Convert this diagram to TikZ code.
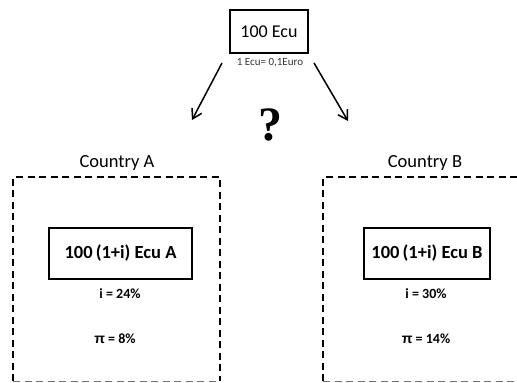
\documentclass[tikz,border=0pt]{standalone}
\usepackage{fontspec}
\setmainfont{Carlito}
\newfontfamily\qfont{Liberation Serif}
\newfontfamily\pifont{Liberation Sans}
\usetikzlibrary{arrows.meta}
\tikzset{
  box/.style={draw=black, line width=1.6pt, inner sep=0pt},
  dbox/.style={draw=black, line width=1.8pt, dash pattern=on 7pt off 4.5pt},
  arr/.style={line width=1.5pt, -{Straight Barb[length=9pt,width=11pt,line width=1.5pt]}},
  lbl/.style={inner sep=0pt, font=\fontsize{18.5}{21}\selectfont},
  small/.style={inner sep=0pt, font=\bfseries\fontsize{14}{16}\selectfont},
}
\begin{document}
\begin{tikzpicture}[x=1pt,y=-1pt]
\useasboundingbox (0,0) rectangle (517,383);
% top box
\node[box, minimum width=78pt, minimum height=43pt, font=\fontsize{18}{20}\selectfont] (top) at (269,31.5) {100 Ecu};
\node[inner sep=0pt, text=black!80, font=\fontsize{11}{12}\selectfont] (rate) at (270,63) {1 Ecu= 0,1Euro};
\coordinate (la) at (222,63);
\coordinate (lb) at (192,120);
\coordinate (ra) at (314,63);
\coordinate (rb) at (348,121);
\draw[arr] (la) -- (lb);
\draw[arr] (ra) -- (rb);
\node[inner sep=0pt, font=\qfont\bfseries\fontsize{48}{50}\selectfont] (q) at (270,125) {?};
% country A
\node[lbl] (ca) at (117,163) {Country A};
\draw[dbox] (13,381) -- (13,177) -- (220,177) -- (220,381);
\draw[line width=1pt, draw=black!55, dash pattern=on 7pt off 4.5pt] (13,381.5) -- (220,381.5);
\node[box, minimum width=143pt, minimum height=51pt, font=\bfseries\fontsize{18.5}{21}\selectfont] (ea) at (120.5,253.5) {100\,(1+i) Ecu A};
\node[small] (ia) at (120,294) {i = 24\%};
\node[small] (pa) at (115,339) {{\pifont π} = 8\%};
% country B
\node[lbl] (cb) at (425,163) {Country B};
\draw[dbox] (323,381) -- (323,177) -- (520,177);
\draw[line width=1pt, draw=black!55, dash pattern=on 7pt off 4.5pt] (323,381.5) -- (520,381.5);
\node[box, minimum width=126pt, minimum height=51pt, font=\bfseries\fontsize{18.5}{21}\selectfont] (eb) at (427,253.5) {100\,(1+i) Ecu B};
\node[small] (ib) at (426,294) {i = 30\%};
\node[small] (pb) at (426,339) {{\pifont π} = 14\%};
\end{tikzpicture}
\end{document}
